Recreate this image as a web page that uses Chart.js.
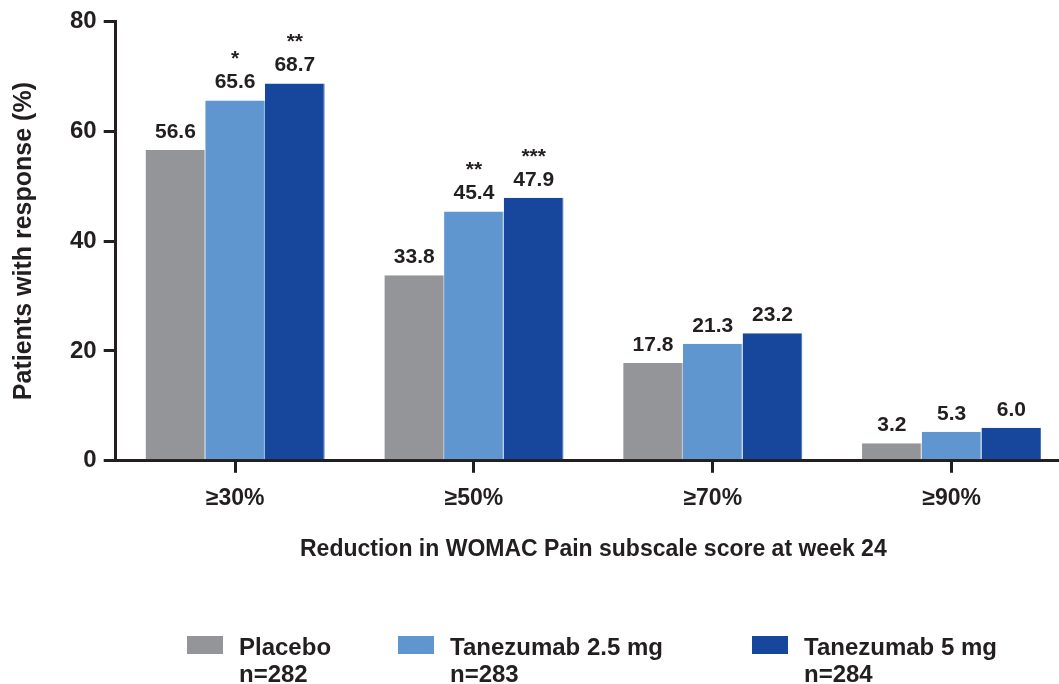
<!DOCTYPE html>
<html>
<head>
<meta charset="utf-8">
<script src="https://cdn.jsdelivr.net/npm/chart.js@4"></script>
<style>
  html, body { margin: 0; padding: 0; background: #fff; overflow: hidden; }
  #wrap { position: relative; width: 1072px; height: 684px; }
  .legend { position: absolute; top: 633px; left: 0; width: 1059px; font: bold 24px "Liberation Sans", Arial, sans-serif; color: #231f20; }
  .item { position: absolute; top: 0; }
  .box { position: absolute; left: 0; top: 3px; width: 36px; height: 18px; }
  .txt { position: absolute; left: 52px; top: 0; line-height: 27px; white-space: nowrap; }
</style>
</head>
<body>
<div id="wrap">
  <canvas id="chart"></canvas>
  <div class="legend" id="legend"></div>
</div>
<script>
// data
var categories = ['\u226530%', '\u226550%', '\u226570%', '\u226590%'];
var groups = ['Placebo', 'Tanezumab 2.5 mg', 'Tanezumab 5 mg'];
var groupN = ['n=282', 'n=283', 'n=284'];
var placebo = [56.6, 33.8, 17.8, 3.2];
var tanez25 = [65.6, 45.4, 21.3, 5.3];
var tanez5 = [68.7, 47.9, 23.2, 6.0];
var stars25 = ['*', '**', '', ''];
var stars5 = ['**', '***', '', ''];
var yTicks = [0, 20, 40, 60, 80];

var colors = ['#939598', '#6096cf', '#16479d'];
var ink = '#231f20';
var font = '"Liberation Sans", Arial, sans-serif';

// value labels + significance stars above each bar
var labelPlugin = {
  id: 'barLabels',
  afterDatasetsDraw: function(chart) {
    var ctx = chart.ctx;
    var starSets = [null, stars25, stars5];
    ctx.save();
    ctx.fillStyle = ink;
    ctx.textAlign = 'center';
    ctx.textBaseline = 'alphabetic';
    chart.data.datasets.forEach(function(ds, di) {
      chart.getDatasetMeta(di).data.forEach(function(bar, i) {
        ctx.font = 'bold 21px ' + font;
        ctx.fillText(ds.data[i].toFixed(1), bar.x, bar.y - 12);
        if (starSets[di] && starSets[di][i]) {
          ctx.fillText(starSets[di][i], bar.x, bar.y - 35);
        }
      });
    });
    ctx.restore();
  }
};

var ctx = document.getElementById('chart').getContext('2d');
var chart = new Chart(ctx, {
  type: 'bar',
  data: {
    labels: categories,
    datasets: [
      { label: groups[0], data: placebo, backgroundColor: colors[0], borderColor: '#b8babc', borderWidth: { right: 1 } },
      { label: groups[1], data: tanez25, backgroundColor: colors[1], borderColor: '#8fb5dd', borderWidth: { right: 1 } },
      { label: groups[2], data: tanez5, backgroundColor: colors[2], borderColor: '#3c64ad', borderWidth: { right: 1 } }
    ]
  },
  options: {
    responsive: true,
    maintainAspectRatio: false,
    animation: false,
    layout: { padding: { left: 5, top: 19, right: 1, bottom: 117 } },
    categoryPercentage: 0.75,
    barPercentage: 1.0,
    plugins: {
      legend: { display: false },
      tooltip: { enabled: false }
    },
    scales: {
      x: {
        offset: true,
        grid: { display: true, offset: false, drawOnChartArea: false, drawTicks: true, tickLength: 12, color: ink, lineWidth: 3 },
        border: { display: true, color: ink, width: 3 },
        ticks: { color: ink, font: { family: font, size: 23, weight: 'bold' }, padding: 12 },
        title: {
          display: true,
          text: 'Reduction in WOMAC Pain subscale score at week 24',
          color: ink,
          font: { family: font, size: 23, weight: 'bold' },
          padding: { top: 11 }
        }
      },
      y: {
        min: 0,
        max: 80,
        afterBuildTicks: function(scale) {
          scale.ticks = yTicks.map(function(v) { return { value: v }; });
        },
        grid: { display: true, drawOnChartArea: false, drawTicks: true, tickLength: 12, color: ink, lineWidth: 3 },
        border: { display: true, color: ink, width: 3 },
        ticks: { color: ink, font: { family: font, size: 24, weight: 'bold' }, padding: 7 },
        title: {
          display: true,
          text: 'Patients with response (%)',
          color: ink,
          font: { family: font, size: 25, weight: 'bold' },
          padding: { bottom: 24 }
        }
      }
    }
  },
  plugins: [labelPlugin]
});

// legend as html, two lines per entry
var legendX = [187, 398, 752];
var legend = document.getElementById('legend');
groups.forEach(function(g, i) {
  var item = document.createElement('div');
  item.className = 'item';
  item.style.left = legendX[i] + 'px';
  item.innerHTML = '<div class="box" style="background:' + colors[i] + '"></div>' +
    '<div class="txt">' + g + '<br>' + groupN[i] + '</div>';
  legend.appendChild(item);
});
</script>
</body>
</html>
